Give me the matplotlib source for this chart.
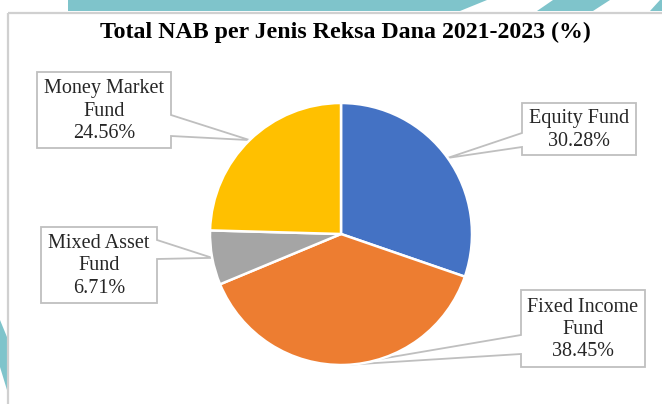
import numpy as np
import matplotlib
matplotlib.use("Agg")
import matplotlib.pyplot as plt
from matplotlib.patches import Polygon, Rectangle

# data
categories = ['Equity Fund', 'Fixed Income Fund', 'Mixed Asset Fund', 'Money Market Fund']
label_text = ['Equity Fund\n30.28%', 'Fixed Income\nFund\n38.45%', 'Mixed Asset\nFund\n6.71%',
              'Money Market\nFund\n24.56%']
shares = [30.28, 38.45, 6.71, 24.56]
colors = ['#4472C4', '#ED7D31', '#A5A5A5', '#FFC000']

W, H = 662, 404
teal = '#7fc4cb'
grey = '#bfbfbf'

# callout boxes (left, top, right, bottom) in pixels, side of tail and where it leaves the box
boxes = [(522, 103, 636, 155), (521, 290, 645, 367), (41, 227, 157, 303), (37, 72, 171, 148)]
tail_side = ['left', 'left', 'right', 'right']
tail_y = [(133, 147), (335, 354), (240, 259), (115, 136)]

plt.rcParams['font.family'] = ['Liberation Serif', 'DejaVu Serif']

fig = plt.figure(figsize=(W / 100, H / 100), dpi=100)
bg = fig.add_axes([0, 0, 1, 1])
bg.set_xlim(0, W)
bg.set_ylim(H, 0)
bg.axis('off')

# decorative background shapes
bg.add_patch(Polygon([(68, 0), (487, 0), (460, 11), (68, 11)], closed=True, color=teal, lw=0))
bg.add_patch(Polygon([(553, 0), (610, 0), (593, 11), (537, 11)], closed=True, color=teal, lw=0))
bg.add_patch(Polygon([(662, 0), (662, 11), (650, 11), (660, 0)], closed=True, color=teal, lw=0))
bg.add_patch(Polygon([(0, 320), (7, 337), (7, 390), (0, 367)], closed=True, color=teal, lw=0))

# chart frame
bg.add_patch(Rectangle((8, 12.5), 700, 450, fill=False, ec='#d0d0d0', lw=1.6))

bg.text(345, 32, 'Total NAB per Jenis Reksa Dana 2021-2023 (%)', ha='center', va='center',
        fontsize=17.2, fontweight='bold', color='black')

# pie
cx, cy, r = 341, 234, 131
ax = fig.add_axes([(cx - r) / W, (H - cy - r) / H, 2 * r / W, 2 * r / H])
wedges, _ = ax.pie(shares, colors=colors, startangle=90, counterclock=False, radius=1,
                   wedgeprops=dict(edgecolor='white', linewidth=1.8))
ax.set_xlim(-1, 1)
ax.set_ylim(-1, 1)

fig.canvas.draw()
for w, box, side, ty, txt in zip(wedges, boxes, tail_side, tail_y, label_text):
    mid = np.deg2rad((w.theta1 + w.theta2) / 2)
    px, py = ax.transData.transform((np.cos(mid), np.sin(mid)))
    tip = (px, H - py)
    L, T, R, B = box
    if side == 'left':
        pts = [(L, T), (R, T), (R, B), (L, B), (L, ty[1]), tip, (L, ty[0])]
    else:
        pts = [(L, T), (R, T), (R, ty[0]), tip, (R, ty[1]), (R, B), (L, B)]
    bg.add_patch(Polygon(pts, closed=True, fc='white', ec=grey, lw=1.3, zorder=5))
    bg.text((L + R) / 2, (T + B) / 2 + 1, txt, ha='center', va='center', fontsize=14.5,
            linespacing=1.22, color='#262626', zorder=6)

fig.savefig('out.png', dpi=100)
